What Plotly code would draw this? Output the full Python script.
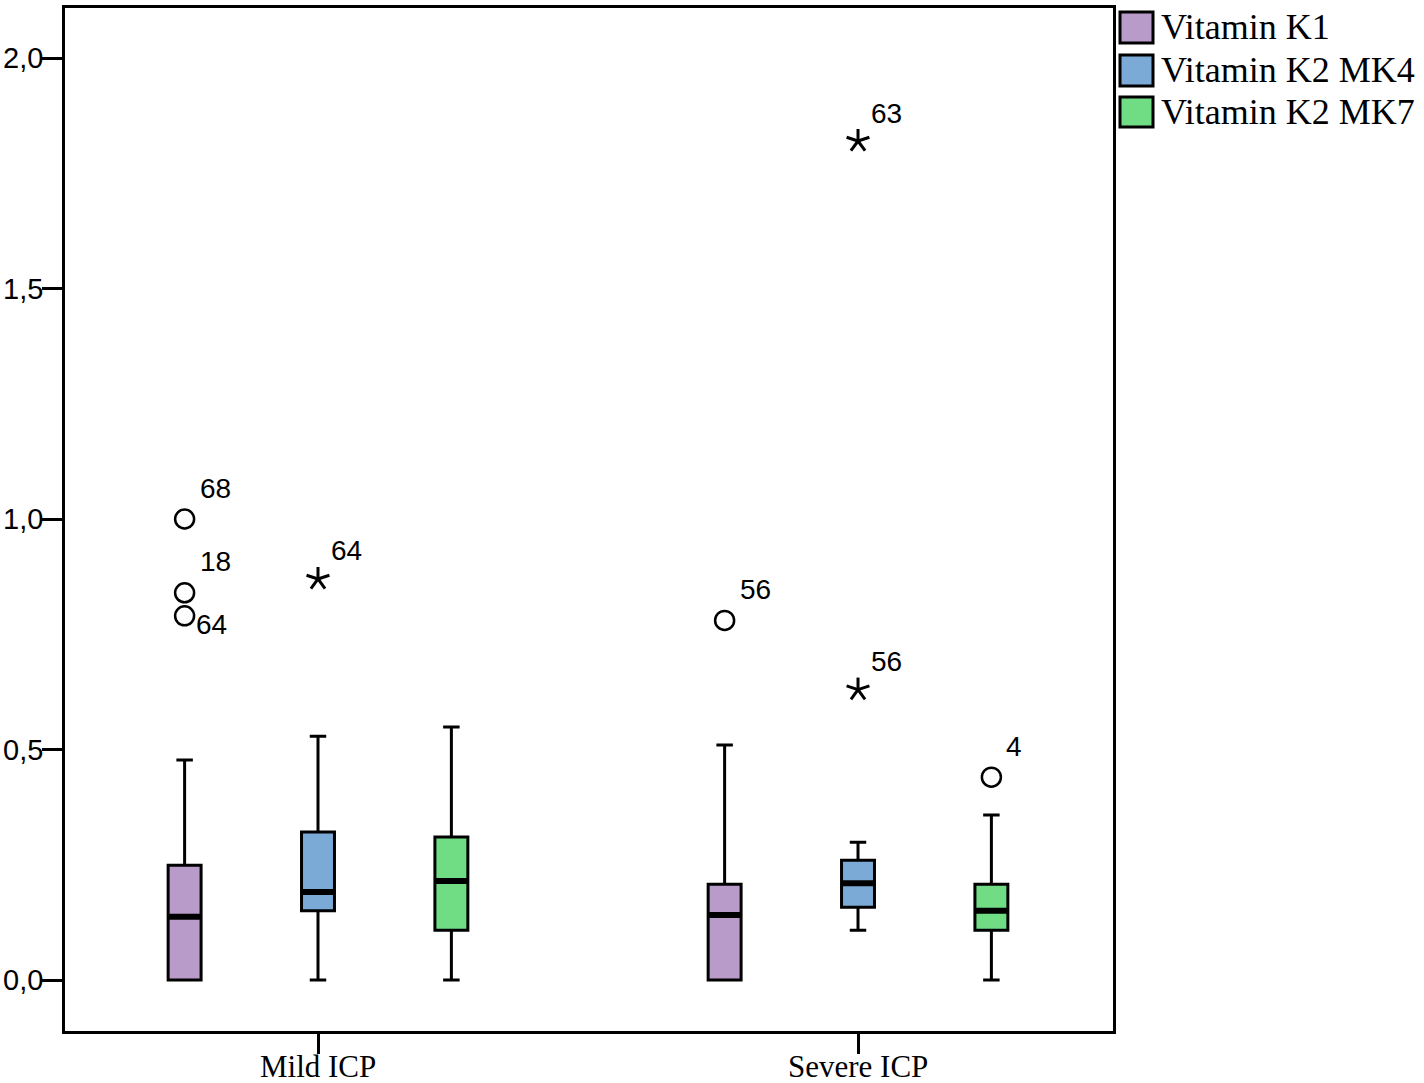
import math
import plotly.graph_objects as go

# ---------------- data ----------------
categories = ["Mild ICP", "Severe ICP"]
series = ["Vitamin K1", "Vitamin K2 MK4", "Vitamin K2 MK7"]
colors = ["#B99BC9", "#7BAAD6", "#70DC84"]

# per series: [Mild, Severe]
q1 = {
    "Vitamin K1": [0.0, 0.0],
    "Vitamin K2 MK4": [0.150, 0.158],
    "Vitamin K2 MK7": [0.108, 0.108],
}
median = {
    "Vitamin K1": [0.137, 0.141],
    "Vitamin K2 MK4": [0.191, 0.210],
    "Vitamin K2 MK7": [0.215, 0.150],
}
q3 = {
    "Vitamin K1": [0.249, 0.208],
    "Vitamin K2 MK4": [0.321, 0.260],
    "Vitamin K2 MK7": [0.310, 0.208],
}
lower = {
    "Vitamin K1": [0.0, 0.0],
    "Vitamin K2 MK4": [0.0, 0.108],
    "Vitamin K2 MK7": [0.0, 0.0],
}
upper = {
    "Vitamin K1": [0.477, 0.510],
    "Vitamin K2 MK4": [0.529, 0.299],
    "Vitamin K2 MK7": [0.549, 0.358],
}

# outliers: (series, category index, value, case id)
circle_outliers = [
    ("Vitamin K1", 0, 1.00, "68"),
    ("Vitamin K1", 0, 0.84, "18"),
    ("Vitamin K1", 0, 0.79, "64"),
    ("Vitamin K1", 1, 0.78, "56"),
    ("Vitamin K2 MK7", 1, 0.44, "4"),
]
extreme_outliers = [
    ("Vitamin K2 MK4", 0, 0.87, "64"),
    ("Vitamin K2 MK4", 1, 1.82, "63"),
    ("Vitamin K2 MK4", 1, 0.63, "56"),
]

ytick_vals = [0.0, 0.5, 1.0, 1.5, 2.0]
ytick_text = ["0,0", "0,5", "1,0", "1,5", "2,0"]

# ---------------- layout helpers ----------------
W, H = 1424, 1083
ML, MR, MT, MB = 65, 311, 8, 52
PW, PH = W - ML - MR, H - MT - MB
XR = [-0.4685, 1.4722]
YR = [-0.1106, 2.1085]
PX_PER_X = PW / (XR[1] - XR[0])
PX_PER_Y = PH / (YR[1] - YR[0])

series_offset = {"Vitamin K1": -0.247, "Vitamin K2 MK4": 0.0, "Vitamin K2 MK7": 0.247}
box_w = 0.061


def px2paper_x(px):
    return (px - ML) / PW


def px2paper_y(py):
    return (H - MB - py) / PH


fig = go.Figure()

for s, c in zip(series, colors):
    xs = [i + series_offset[s] for i in range(len(categories))]
    fig.add_trace(go.Box(
        x=xs, q1=q1[s], median=median[s], q3=q3[s],
        lowerfence=lower[s], upperfence=upper[s],
        width=box_w, whiskerwidth=0.5,
        fillcolor=c, line=dict(color="black", width=3),
        boxpoints=False, name=s, showlegend=False,
    ))
    # thicker median line
    for x0, m in zip(xs, median[s]):
        fig.add_trace(go.Scatter(
            x=[x0 - box_w / 2, x0 + box_w / 2], y=[m, m], mode="lines",
            line=dict(color="black", width=6), showlegend=False, hoverinfo="skip",
        ))

label_font = dict(family="Liberation Sans, Arial", size=28, color="black")

# circle outliers
cx = [ci + series_offset[s] for s, ci, v, lab in circle_outliers]
cy = [v for s, ci, v, lab in circle_outliers]
fig.add_trace(go.Scatter(
    x=cx, y=cy, mode="markers",
    marker=dict(symbol="circle-open", size=19, color="black", line=dict(width=2.5, color="black")),
    showlegend=False, hoverinfo="skip",
))

# extreme outliers: five-armed asterisk glyph (arm length in pixels)
arm_px = 12
arm_angles = [90, 18, 162, -54, -126]
ax_, ay_ = [], []
for s, ci, v, lab in extreme_outliers:
    x0 = ci + series_offset[s]
    for a in arm_angles:
        ax_ += [x0, x0 + arm_px * math.cos(math.radians(a)) / PX_PER_X, None]
        ay_ += [v, v + arm_px * math.sin(math.radians(a)) / PX_PER_Y, None]
fig.add_trace(go.Scatter(
    x=ax_, y=ay_, mode="lines", line=dict(color="black", width=3),
    showlegend=False, hoverinfo="skip",
))

# labels
special_shift = {("Vitamin K1", 0, "64"): (9, -9)}
for (s, ci, v, lab) in circle_outliers + extreme_outliers:
    is_ext = (s, ci, v, lab) in extreme_outliers
    dx, dy = (11, 28) if is_ext else (13, 31)
    if (s, ci, lab) in special_shift:
        dx, dy = special_shift[(s, ci, lab)]
    fig.add_annotation(
        x=ci + series_offset[s], y=v, text=lab, showarrow=False,
        xanchor="left", yanchor="middle", xshift=dx, yshift=dy,
        font=label_font,
    )

# category labels
for i, cat in enumerate(categories):
    fig.add_annotation(
        x=i, xref="x", y=0, yref="paper", text=cat, showarrow=False,
        xanchor="center", yanchor="top", yshift=-16,
        font=dict(family="Liberation Serif, Times New Roman", size=31, color="black"),
    )

# y tick labels
for v, t in zip(ytick_vals, ytick_text):
    fig.add_annotation(
        x=0, xref="paper", y=v, yref="y", text=t, showarrow=False,
        xanchor="right", yanchor="middle", xshift=-20,
        font=dict(family="Liberation Sans, Arial", size=29, color="black"),
    )

# legend drawn manually
leg_rows = [(12, 43), (55, 86), (97, 127)]
for (y0, y1), s, c in zip(leg_rows, series, colors):
    fig.add_shape(
        type="rect", xref="paper", yref="paper",
        x0=px2paper_x(1120), x1=px2paper_x(1153),
        y0=px2paper_y(y1), y1=px2paper_y(y0),
        fillcolor=c, line=dict(color="black", width=3), layer="above",
    )
    fig.add_annotation(
        xref="paper", yref="paper", x=px2paper_x(1159), y=px2paper_y((y0 + y1) / 2),
        text=s, showarrow=False, xanchor="left", yanchor="middle",
        font=dict(family="Liberation Serif, Times New Roman", size=36, color="black"),
    )

fig.update_layout(
    width=W, height=H, autosize=False,
    margin=dict(l=ML, r=MR, t=MT, b=MB, pad=0, autoexpand=False),
    paper_bgcolor="white", plot_bgcolor="white",
    boxmode="overlay", showlegend=False,
)
fig.update_xaxes(
    range=XR, tickvals=list(range(len(categories))), ticktext=categories, showticklabels=False,
    showgrid=False, zeroline=False, showline=True, mirror=True, linecolor="black", linewidth=3,
    ticks="outside", ticklen=20, tickwidth=3, tickcolor="black", automargin=False,
)
fig.update_yaxes(
    range=YR, tickvals=ytick_vals, ticktext=ytick_text, showticklabels=False,
    showgrid=False, zeroline=False, showline=True, mirror=True, linecolor="black", linewidth=3,
    ticks="outside", ticklen=20, tickwidth=3, tickcolor="black", automargin=False,
)

fig.write_html(
    "out.html",
    config={"displayModeBar": False},
    post_script="document.body.style.margin='0';document.body.style.overflow='hidden';",
)
